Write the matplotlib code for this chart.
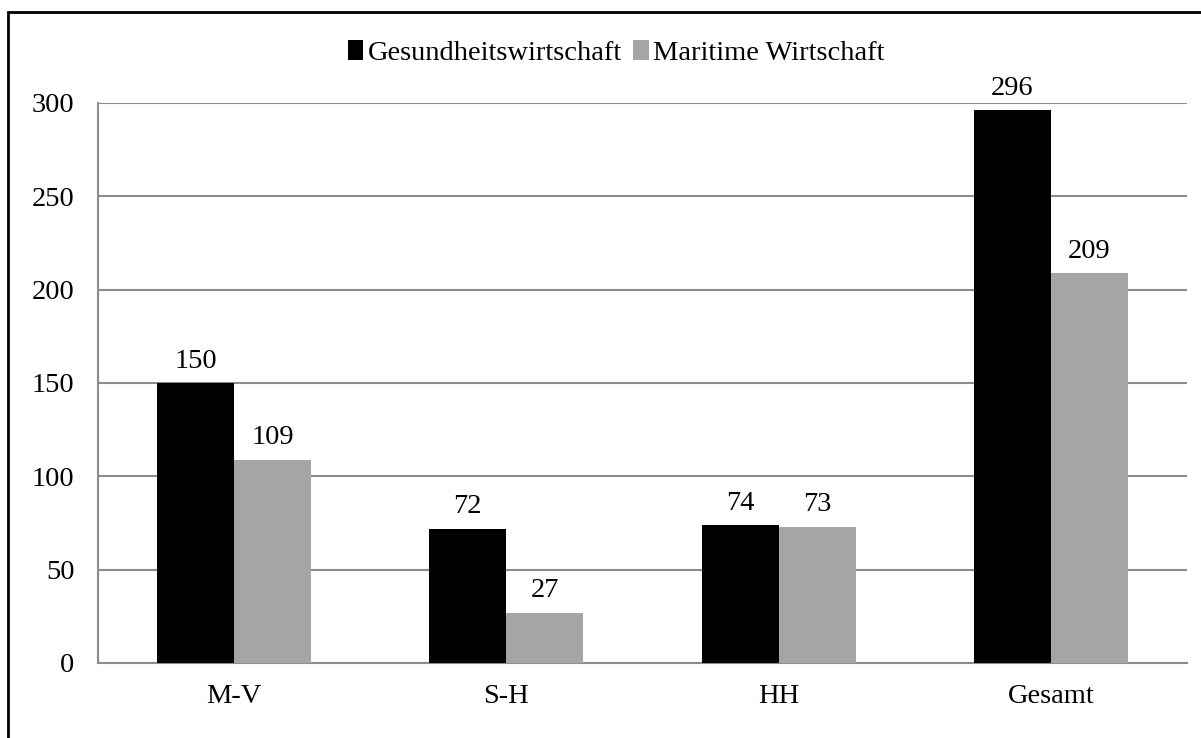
import matplotlib.pyplot as plt
import numpy as np
from matplotlib.patches import Rectangle

categories = ["M-V", "S-H", "HH", "Gesamt"]
gesundheit = [150, 72, 74, 296]
maritime = [109, 27, 73, 209]
series_names = ["Gesundheitswirtschaft", "Maritime Wirtschaft"]
y_ticks = [0, 50, 100, 150, 200, 250, 300]

plt.rcParams["font.family"] = ["Liberation Serif", "DejaVu Serif"]

W, H = 1201, 738
fig = plt.figure(figsize=(W / 100, H / 100), dpi=100)

# outer frame (runs off the right and bottom edge)
fig.patches.append(Rectangle((8 / W, -0.05), 1.1, 1 - 12 / H + 0.05,
                             transform=fig.transFigure, fill=False,
                             edgecolor="black", linewidth=2))

left, right, top, bottom = 98, 1187, 103, 663
ax = fig.add_axes([left / W, 1 - bottom / H, (right - left) / W, (bottom - top) / H])

x = np.arange(len(categories))
width = 0.283
b1 = ax.bar(x - width / 2, gesundheit, width, color="black", label=series_names[0], zorder=3)
b2 = ax.bar(x + width / 2, maritime, width, color="#a5a5a5", label=series_names[1], zorder=3)

fs = 20.5
for bars in (b1, b2):
    for rect in bars:
        ax.text(rect.get_x() + rect.get_width() / 2, rect.get_height() + 5,
                f"{int(rect.get_height())}", ha="center", va="bottom", fontsize=fs)

ax.set_xlim(-0.5, len(categories) - 0.5)
ax.set_ylim(0, 300)
ax.set_yticks(y_ticks)
ax.set_xticks(x)
ax.set_xticklabels(categories)
ax.tick_params(axis="both", length=0, labelsize=fs)
ax.tick_params(axis="y", pad=17)
ax.tick_params(axis="x", pad=15)
ax.yaxis.grid(True, color="#8c8c8c", linewidth=1.5, zorder=0)
for s in ("top", "right"):
    ax.spines[s].set_visible(False)
for s in ("left", "bottom"):
    ax.spines[s].set_color("#8c8c8c")
    ax.spines[s].set_linewidth(1.5)

fig.legend(loc="center", bbox_to_anchor=(0.513, 1 - 53 / H), ncol=2, frameon=False,
           fontsize=fs, handlelength=0.55, handleheight=0.7, handletextpad=0.15,
           columnspacing=0.4)

fig.savefig("out.png", dpi=100)
